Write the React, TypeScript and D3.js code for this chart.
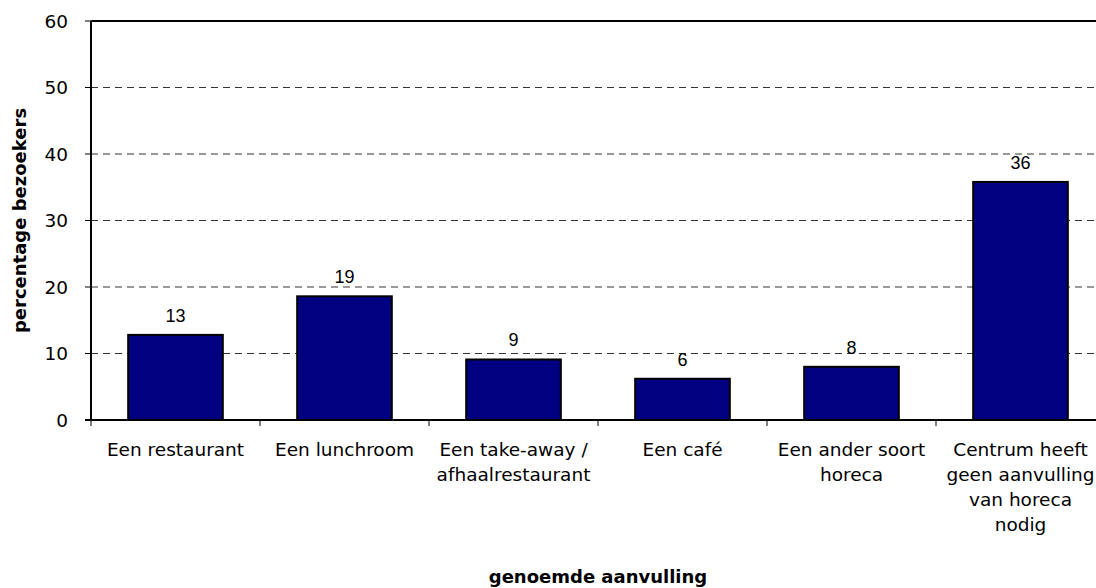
import React from 'react';
import * as d3 from 'd3';

const categories: string[][] = [
  ['Een restaurant'],
  ['Een lunchroom'],
  ['Een take-away /', 'afhaalrestaurant'],
  ['Een café'],
  ['Een ander soort', 'horeca'],
  ['Centrum heeft', 'geen aanvulling', 'van horeca', 'nodig'],
];
const values: number[] = [12.8, 18.6, 9.1, 6.2, 8.0, 35.8];
const yTicks: number[] = [0, 10, 20, 30, 40, 50, 60];

const W = 1096;
const H = 588;
const left = 91;
const right = 1105;
const top = 21;
const bottom = 420;

const axisFont = "Verdana, 'DejaVu Sans', sans-serif";
const labelFont = "Arial, 'Liberation Sans', sans-serif";

export default function App() {
  const x = d3
    .scaleBand<number>()
    .domain(d3.range(categories.length))
    .range([left, right])
    .paddingInner(0.44)
    .paddingOuter(0.22);
  const step = x.step();
  const y = d3.scaleLinear().domain([0, 60]).range([bottom, top]);

  return (
    <div style={{ position: 'absolute', left: 0, top: 0 }}>
      <svg width={W} height={H} style={{ display: 'block', background: '#fff' }}>
        {/* gridlines */}
        {yTicks
          .filter((t) => t > 0 && t < 60)
          .map((t) => (
            <line
              key={'g' + t}
              x1={left}
              x2={right}
              y1={y(t)}
              y2={y(t)}
              stroke="#333"
              strokeWidth={1}
              strokeDasharray="7,5"
            />
          ))}

        {/* bars */}
        {values.map((v, i) => (
          <rect
            key={'b' + i}
            x={x(i)}
            y={y(v)}
            width={x.bandwidth()}
            height={y(0) - y(v)}
            fill="#000080"
            stroke="#000"
            strokeWidth={2}
          />
        ))}

        {/* value labels */}
        {values.map((v, i) => (
          <text
            key={'v' + i}
            x={(x(i) ?? 0) + x.bandwidth() / 2}
            y={y(v) - 13}
            textAnchor="middle"
            fontFamily={labelFont}
            fontSize={18}
            fill="#000"
          >
            {Math.round(v)}
          </text>
        ))}

        {/* frame */}
        <line x1={left} x2={right} y1={top} y2={top} stroke="#000" strokeWidth={2} />
        <line x1={left} x2={left} y1={top} y2={bottom} stroke="#000" strokeWidth={2} />
        <line x1={left - 6} x2={right} y1={bottom} y2={bottom} stroke="#000" strokeWidth={2} />

        {/* y ticks */}
        {yTicks.map((t) => (
          <g key={'t' + t}>
            <line x1={left - 6} x2={left} y1={y(t)} y2={y(t)} stroke="#000" strokeWidth={1} />
            <text
              x={68}
              y={y(t) + 6.5}
              textAnchor="end"
              fontFamily={axisFont}
              fontSize={18.5}
              fill="#000"
            >
              {t}
            </text>
          </g>
        ))}

        {/* x ticks */}
        {d3.range(categories.length + 1).map((i) => (
          <line
            key={'xt' + i}
            x1={left + i * step}
            x2={left + i * step}
            y1={bottom}
            y2={bottom + 6}
            stroke="#000"
            strokeWidth={1}
          />
        ))}

        {/* category labels */}
        {categories.map((lines, i) => (
          <text
            key={'c' + i}
            textAnchor="middle"
            fontFamily={axisFont}
            fontSize={18.5}
            fill="#000"
          >
            {lines.map((ln, j) => (
              <tspan key={j} x={(x(i) ?? 0) + x.bandwidth() / 2} y={456 + j * 25}>
                {ln}
              </tspan>
            ))}
          </text>
        ))}

        {/* axis titles */}
        <text
          x={(left + right) / 2}
          y={583}
          textAnchor="middle"
          fontFamily={axisFont}
          fontWeight="bold"
          fontSize={18}
          fill="#000"
        >
          genoemde aanvulling
        </text>
        <text
          transform={`translate(26,${(top + bottom) / 2}) rotate(-90)`}
          textAnchor="middle"
          fontFamily={axisFont}
          fontWeight="bold"
          fontSize={18}
          fill="#000"
        >
          percentage bezoekers
        </text>
      </svg>
    </div>
  );
}
